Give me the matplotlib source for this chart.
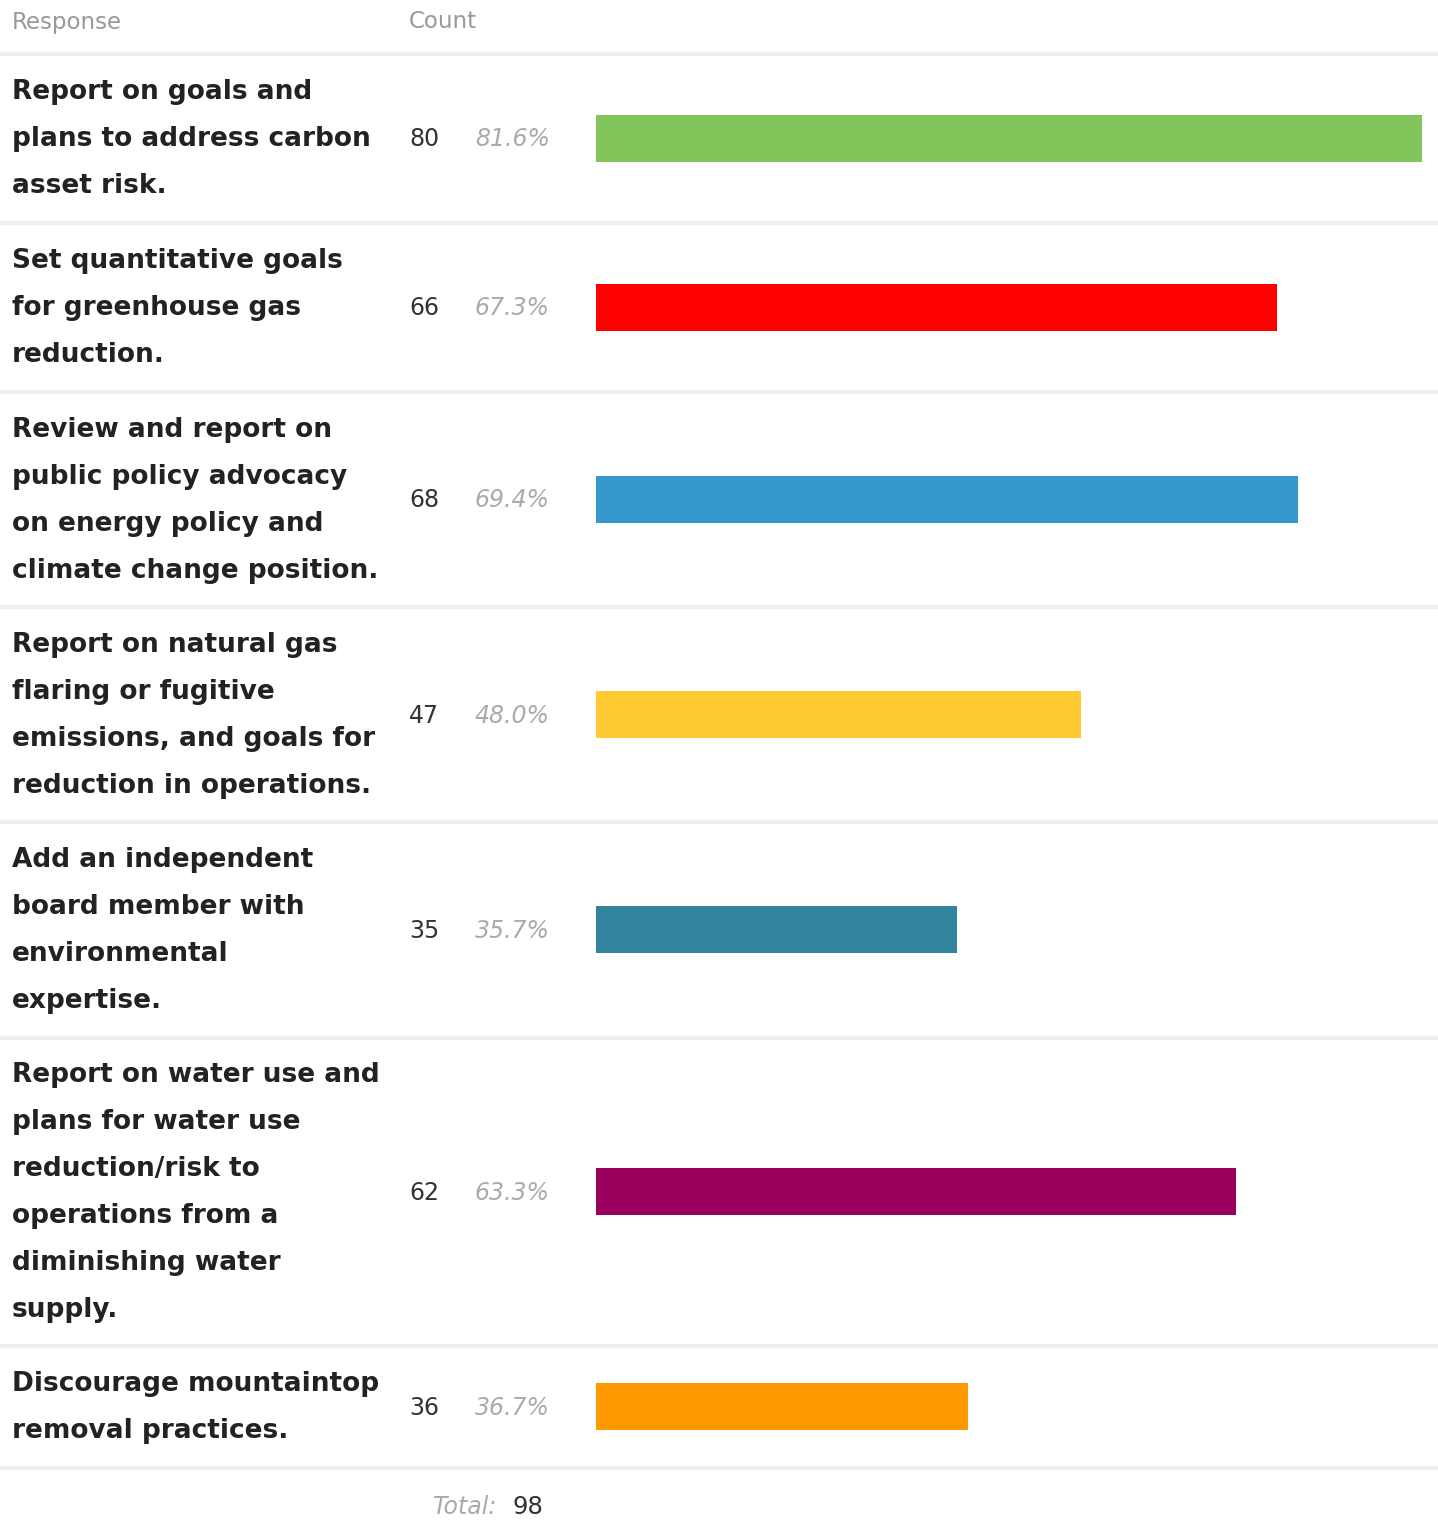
import matplotlib.pyplot as plt

# data
labels = [
    "Report on goals and\nplans to address carbon\nasset risk.",
    "Set quantitative goals\nfor greenhouse gas\nreduction.",
    "Review and report on\npublic policy advocacy\non energy policy and\nclimate change position.",
    "Report on natural gas\nflaring or fugitive\nemissions, and goals for\nreduction in operations.",
    "Add an independent\nboard member with\nenvironmental\nexpertise.",
    "Report on water use and\nplans for water use\nreduction/risk to\noperations from a\ndiminishing water\nsupply.",
    "Discourage mountaintop\nremoval practices.",
]
counts = [80, 66, 68, 47, 35, 62, 36]
total = 98
colors = ["#82C65B", "#FF0000", "#3498CC", "#FEC931", "#32849D", "#99005E", "#FE9900"]

W, H = 1438, 1538
fig = plt.figure(figsize=(W / 100, H / 100), dpi=100)
ax = fig.add_axes([0, 0, 1, 1])
ax.set_xlim(0, W)
ax.set_ylim(H, 0)
ax.axis("off")

# bar axes: x in count units, y in pixel rows shared with the page
bx = fig.add_axes([596 / W, 0, (1422 - 596) / W, 1])
bx.set_xlim(0, max(counts))
bx.set_ylim(H, 0)
bx.axis("off")

line_h = 47
top = 54
ax.text(12, 22, "Response", color="#999999", fontsize=16.5, va="center", ha="left")
ax.text(409, 22, "Count", color="#999999", fontsize=16.5, va="center", ha="left")
ax.axhline(top, color="#eeeeee", lw=3)

y = top
for lab, c, col in zip(labels, counts, colors):
    lines = lab.split("\n")
    n = len(lines)
    h = 46.5 * n + 29.3
    cy = y + h / 2
    for k, ln in enumerate(lines):
        ax.text(12, cy + 1 + (k - (n - 1) / 2) * line_h, ln, fontsize=19, fontweight="bold",
                color="#222222", va="center", ha="left")
    ax.text(409, cy + 1, str(c), fontsize=17, color="#333333", va="center", ha="left")
    ax.text(475, cy + 1, "%.1f%%" % (100 * c / total), fontsize=17, style="italic",
            color="#aaaaaa", va="center", ha="left")
    bx.barh(cy, c, height=47, color=col, left=0)
    y += h
    ax.axhline(y, color="#eeeeee", lw=3)

ax.text(497, y + 39, "Total:", fontsize=17, style="italic", color="#aaaaaa",
        va="center", ha="right")
ax.text(513, y + 39, str(total), fontsize=17.5, color="#333333", va="center", ha="left")

fig.savefig("out.png", dpi=100, facecolor="white")
